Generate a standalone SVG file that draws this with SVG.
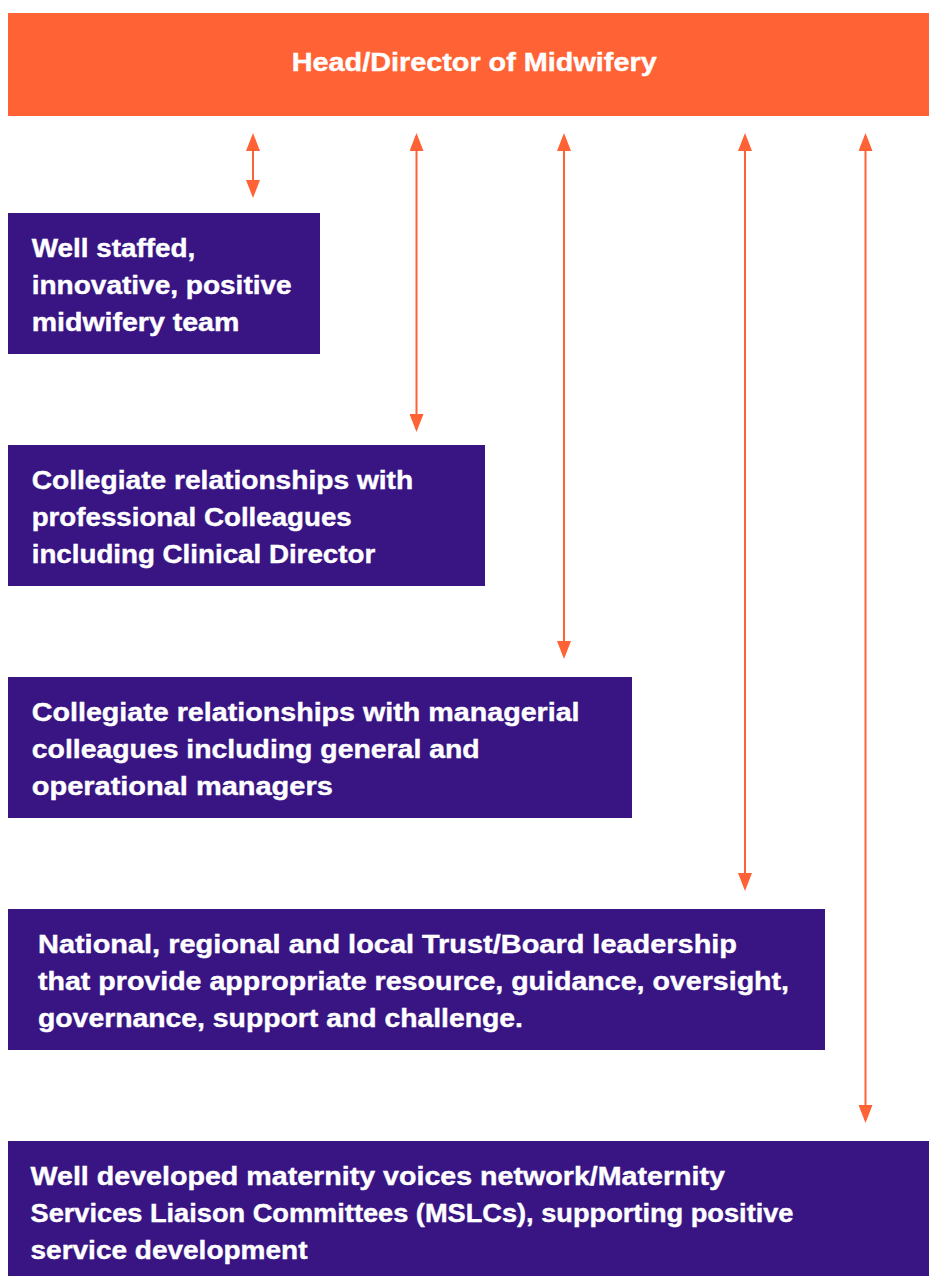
<svg xmlns="http://www.w3.org/2000/svg" width="929" height="1276" viewBox="0 0 929 1276">
<style>
.bg{fill:#ffffff}
.head{fill:#FF6234}
.box{fill:#391584}
.t{fill:#ffffff;stroke:#ffffff;stroke-width:0.4;font-family:"Liberation Sans",Arial,sans-serif;font-weight:bold;font-size:25px}
.c{stroke:#FF6234;stroke-width:2;fill:none}
</style>
<defs>
<marker id="ah" markerUnits="userSpaceOnUse" markerWidth="18" markerHeight="14" refX="15" refY="7" orient="auto-start-reverse" viewBox="0 0 18 14">
<path d="M0,0 L18,7 L0,14 z" fill="#FF6234"/>
</marker>
</defs>
<rect class="bg" x="0" y="0" width="929" height="1276"/>
<g id="director">
<rect class="head" x="8" y="13" width="921" height="103"/>
<text class="t" x="291.7" y="71" textLength="365" lengthAdjust="spacingAndGlyphs">Head/Director of Midwifery</text>
</g>
<g id="connectors">
<line class="c" x1="253" y1="136" x2="253" y2="195" marker-start="url(#ah)" marker-end="url(#ah)"/>
<line class="c" x1="416.5" y1="136" x2="416.5" y2="429" marker-start="url(#ah)" marker-end="url(#ah)"/>
<line class="c" x1="564" y1="136" x2="564" y2="656" marker-start="url(#ah)" marker-end="url(#ah)"/>
<line class="c" x1="745" y1="136" x2="745" y2="888" marker-start="url(#ah)" marker-end="url(#ah)"/>
<line class="c" x1="865.5" y1="136" x2="865.5" y2="1120" marker-start="url(#ah)" marker-end="url(#ah)"/>
</g>
<g id="team">
<rect class="box" x="8" y="213" width="312" height="141"/>
<text class="t" x="31.7" y="257" textLength="163.5" lengthAdjust="spacingAndGlyphs">Well staffed,</text>
<text class="t" x="31.7" y="294" textLength="260" lengthAdjust="spacingAndGlyphs">innovative, positive</text>
<text class="t" x="31.7" y="331" textLength="207.6" lengthAdjust="spacingAndGlyphs">midwifery team</text>
</g>
<g id="professional">
<rect class="box" x="8" y="445" width="477" height="141"/>
<text class="t" x="31.7" y="489" textLength="381.5" lengthAdjust="spacingAndGlyphs">Collegiate relationships with</text>
<text class="t" x="31.7" y="526" textLength="320" lengthAdjust="spacingAndGlyphs">professional Colleagues</text>
<text class="t" x="31.7" y="563" textLength="343.5" lengthAdjust="spacingAndGlyphs">including Clinical Director</text>
</g>
<g id="managerial">
<rect class="box" x="8" y="677" width="624" height="141"/>
<text class="t" x="31.8" y="721" textLength="547.8" lengthAdjust="spacingAndGlyphs">Collegiate relationships with managerial</text>
<text class="t" x="31.8" y="758" textLength="447.8" lengthAdjust="spacingAndGlyphs">colleagues including general and</text>
<text class="t" x="31.8" y="795" textLength="301" lengthAdjust="spacingAndGlyphs">operational managers</text>
</g>
<g id="leadership">
<rect class="box" x="8" y="909" width="817" height="141"/>
<text class="t" x="38" y="953" textLength="699" lengthAdjust="spacingAndGlyphs">National, regional and local Trust/Board leadership</text>
<text class="t" x="38" y="990" textLength="751" lengthAdjust="spacingAndGlyphs">that provide appropriate resource, guidance, oversight,</text>
<text class="t" x="38" y="1027" textLength="485" lengthAdjust="spacingAndGlyphs">governance, support and challenge.</text>
</g>
<g id="voices">
<rect class="box" x="8" y="1141" width="921" height="135"/>
<text class="t" x="30.5" y="1185" textLength="694.5" lengthAdjust="spacingAndGlyphs">Well developed maternity voices network/Maternity</text>
<text class="t" x="30.5" y="1222" textLength="763" lengthAdjust="spacingAndGlyphs">Services Liaison Committees (MSLCs), supporting positive</text>
<text class="t" x="30.5" y="1259" textLength="277" lengthAdjust="spacingAndGlyphs">service development</text>
</g>
</svg>
